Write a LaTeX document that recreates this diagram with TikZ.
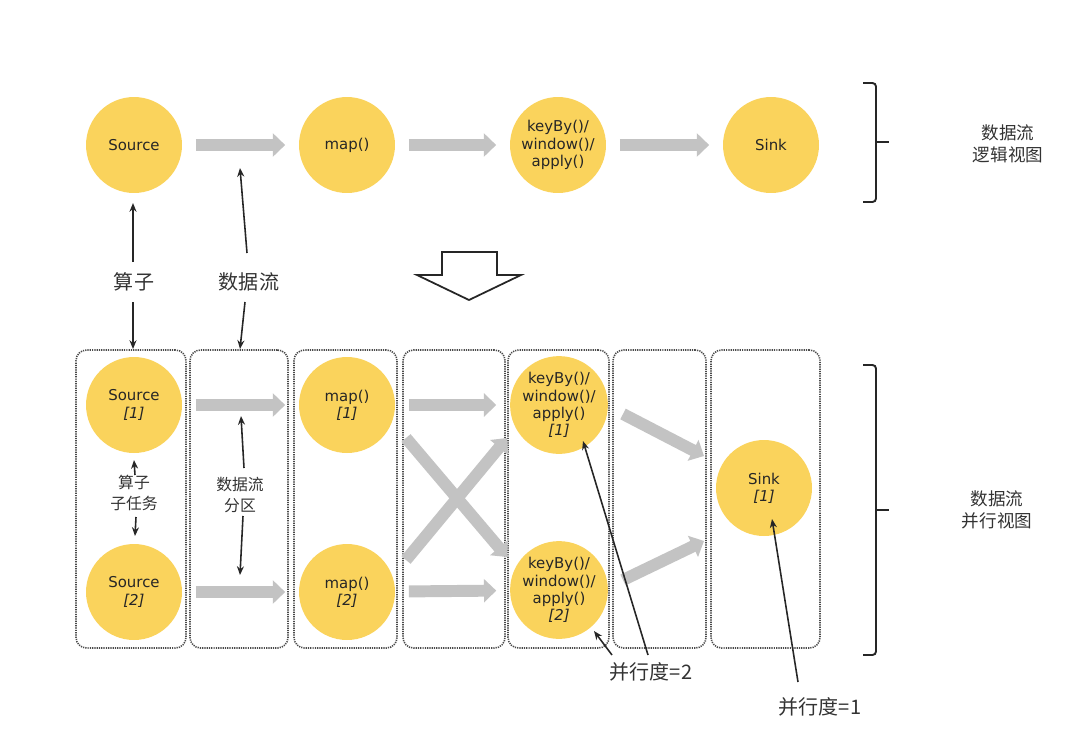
\documentclass[tikz,border=0pt]{standalone}
\usepackage{fontspec}
\setmainfont{DejaVu Sans}
\newfontfamily\cjk{Noto Sans CJK SC}
\usetikzlibrary{arrows.meta,fit}
\definecolor{opyellow}{HTML}{FAD35C}
\definecolor{flowgray}{HTML}{C3C3C3}
\definecolor{txt}{HTML}{262626}
\definecolor{boxline}{HTML}{4A4A4A}
\begin{document}
\begin{tikzpicture}[x=0.02cm,y=-0.02cm,
  op/.style={circle, fill=opyellow, minimum size=1.92cm, inner sep=0pt, align=center,
    font=\fontsize{8.5}{9.8}\selectfont, text=txt},
  flow/.style={draw=flowgray, line width=6.8pt, -{Triangle[length=7pt,width=13pt]},
    shorten <=0.27cm, shorten >=0.27cm},
  flowc/.style={draw=flowgray, line width=6.8pt, -{Triangle[length=7pt,width=13pt]}},
  ann/.style={draw=black!85, line width=0.9pt, -{Stealth[length=5pt,width=4pt]}},
  lab/.style={font=\cjk\fontsize{11.4}{13}\selectfont, text=black!80, inner sep=1pt},
  slab/.style={font=\cjk\fontsize{9}{12}\selectfont, text=black!80, align=center, inner sep=1pt},
  rlab/.style={font=\cjk\fontsize{10}{12.6}\selectfont, text=black!80, align=center, inner sep=1pt},
  colbox/.style={draw=boxline, line width=0.9pt, dash pattern=on 0.7pt off 0.6pt,
    rounded corners=6pt, inner sep=0pt},
  brace/.style={draw=black!85, line width=1.1pt, rounded corners=2pt},
  hollow/.style={draw=black!85, line width=1pt, fill=white}
]
\useasboundingbox (0,0) rectangle (1078,738);

% ---------- logical view ----------
\node[op] (src) at (134,145) {Source};
\node[op] (map) at (347,145) {map()};
\node[op] (key) at (558,145) {keyBy()/\\window()/\\apply()};
\node[op] (sink) at (771,145) {Sink};
\draw[flow] (src) -- (map);
\draw[flow] (map) -- (key);
\draw[flow] (key) -- (sink);

% brace top
\draw[brace] (863,83) -- (876,83) -- (876,202) -- (863,202);
\draw[brace] (876,142) -- (889,142);
\node[rlab] (tlogic) at (1008,144) {数据流\\逻辑视图};

% labels
\node[lab] (lop) at (134,282) {算子};
\node[lab] (lflow) at (249,282) {数据流};
\coordinate (c1a) at (133,262); \coordinate (c1b) at (133,203);
\coordinate (c2a) at (133,302); \coordinate (c2b) at (133,349);
\coordinate (c3a) at (247,253); \coordinate (c3b) at (240,168);
\coordinate (c4a) at (245,302); \coordinate (c4b) at (240,349);
\draw[ann] (c1a) -- (c1b);
\draw[ann] (c2a) -- (c2b);
\draw[ann] (c3a) -- (c3b);
\draw[ann] (c4a) -- (c4b);

% hollow arrow
\draw[hollow] (442,252) -- (497,252) -- (497,275) -- (521,275) -- (469,300)
  -- (417,275) -- (442,275) -- cycle;

% ---------- parallel view ----------
\node[colbox, fit={(76,350) (186,648)}] (b1) {};
\node[colbox, fit={(190,350) (288,648)}] (b2) {};
\node[colbox, fit={(294,350) (397,648)}] (b3) {};
\node[colbox, fit={(403,350) (505,648)}] (b4) {};
\node[colbox, fit={(508,350) (609,648)}] (b5) {};
\node[colbox, fit={(613,350) (706,648)}] (b6) {};
\node[colbox, fit={(711,350) (820,648)}] (b7) {};

\node[op] (s1) at (134,405) {Source\\\textit{[1]}};
\node[op] (s2) at (134,592) {Source\\\textit{[2]}};
\node[op] (m1) at (347,405) {map()\\\textit{[1]}};
\node[op] (m2) at (347,592) {map()\\\textit{[2]}};
\node[op] (k1) at (559,405) {keyBy()/\\window()/\\apply()\\\textit{[1]}};
\node[op] (k2) at (559,590) {keyBy()/\\window()/\\apply()\\\textit{[2]}};
\node[op] (sk) at (764,488) {Sink\\\textit{[1]}};

\draw[flow] (s1) -- (m1);
\draw[flow] (s2) -- (m2);
\draw[flow] (m1) -- (k1);
\draw[flow] (m2) -- (k2);
\coordinate (d1a) at (406,438); \coordinate (d1b) at (507,557);
\coordinate (d2a) at (406,560); \coordinate (d2b) at (507,438);
\coordinate (d3a) at (623,414); \coordinate (d3b) at (704,456);
\coordinate (d4a) at (623,580); \coordinate (d4b) at (704,541);
\draw[flowc] (d1a) -- (d1b);
\draw[flowc] (d2a) -- (d2b);
\draw[flowc] (d3a) -- (d3b);
\draw[flowc] (d4a) -- (d4b);

% inner labels
\node[slab] (lsub) at (134,493) {算子\\子任务};
\node[slab] (lpart) at (240,495) {数据流\\分区};
\coordinate (e1a) at (135,475); \coordinate (e1b) at (134,460);
\coordinate (e2a) at (136,517); \coordinate (e2b) at (135,536);
\coordinate (e3a) at (244,468); \coordinate (e3b) at (241,416);
\coordinate (e4a) at (243,516); \coordinate (e4b) at (240,575);
\draw[ann] (e1a) -- (e1b);
\draw[ann] (e2a) -- (e2b);
\draw[ann] (e3a) -- (e3b);
\draw[ann] (e4a) -- (e4b);

% parallelism labels
\node[lab] (p2) at (651,672) {并行度=2};
\node[lab] (p1) at (820,707) {并行度=1};
\coordinate (g1a) at (612,655); \coordinate (g1b) at (594,631);
\coordinate (g2a) at (648,655); \coordinate (g2b) at (583,441);
\coordinate (g3a) at (798,682); \coordinate (g3b) at (772,519);
\draw[ann] (g1a) -- (g1b);
\draw[ann] (g2a) -- (g2b);
\draw[ann] (g3a) -- (g3b);

% brace bottom
\draw[brace] (863,365) -- (876,365) -- (876,655) -- (863,655);
\draw[brace] (876,510) -- (889,510);
\node[rlab] (tpar) at (997,510) {数据流\\并行视图};
\end{tikzpicture}
\end{document}
